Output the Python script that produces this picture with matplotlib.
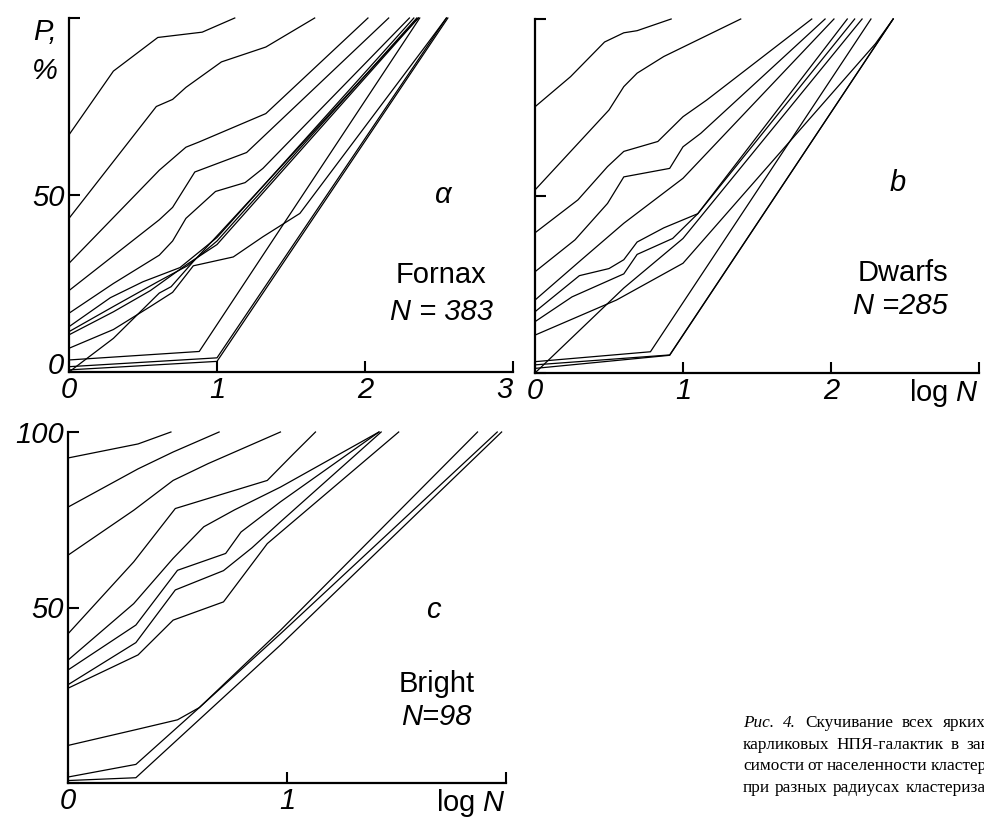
import matplotlib
matplotlib.use('Agg')
import matplotlib.pyplot as plt

plt.rcParams['font.family'] = ['Liberation Sans', 'DejaVu Sans']
plt.rcParams['mathtext.fontset'] = 'custom'
plt.rcParams['mathtext.it'] = 'Liberation Sans:italic'
plt.rcParams['mathtext.rm'] = 'Liberation Sans'

# --- a: Fornax, N = 383 (log N, P %) ---
fornax_x = [
    [0, 0.30, 0.60, 0.90, 1.12],
    [0, 0.59, 0.70, 0.79, 1.03, 1.33, 1.66],
    [0, 0.61, 0.79, 0.88, 1.33, 2.02],
    [0, 0.61, 0.70, 0.85, 1.20, 2.16],
    [0, 0.30, 0.61, 0.70, 0.79, 0.99, 1.19, 1.31, 2.30],
    [0, 0.28, 0.50, 0.75, 1.0, 2.33],
    [0, 0.30, 0.60, 0.80, 1.0, 2.35],
    [0, 0.30, 0.55, 0.80, 1.0, 2.36],
    [0, 0.30, 0.55, 0.70, 0.84, 1.11, 1.31, 1.56, 2.44, 2.55],
    [0, 0.30, 0.61, 0.69, 0.84, 2.36],
    [0, 0.88, 2.37],
    [0, 1.0, 2.55],
    [0, 1.0, 2.56],
]
fornax_y = [
    [67, 85, 94.5, 96, 100],
    [43.4, 75, 77, 80.4, 87.6, 91.8, 100],
    [30.7, 57, 63.5, 65, 73, 100],
    [23, 43, 46.5, 56.5, 62, 100],
    [16.6, 25, 33, 37, 43.4, 51, 53.5, 57.5, 100],
    [12.8, 21, 25.5, 29.5, 38, 100],
    [11.4, 18.5, 25.5, 30, 37, 100],
    [10.5, 17, 23, 30.5, 36, 100],
    [6.7, 12, 18.5, 22.5, 30, 32.5, 38.2, 44.8, 93.8, 100],
    [0, 9.5, 22.3, 24.1, 31.2, 100],
    [3.4, 5.8, 100],
    [1.5, 4, 100],
    [0.6, 3, 100],
]

# --- b: Dwarfs, N = 285 ---
dwarfs_x = [
    [0, 0.24, 0.47, 0.60, 0.69, 0.92],
    [0, 0.50, 0.60, 0.69, 0.87, 1.39],
    [0, 0.29, 0.49, 0.60, 0.83, 1.0, 1.16, 1.87],
    [0, 0.27, 0.49, 0.60, 0.91, 1.0, 1.12, 1.96],
    [0, 0.30, 0.60, 1.0, 2.02],
    [0, 0.30, 0.50, 0.60, 0.69, 0.87, 1.10, 2.11],
    [0, 0.25, 0.60, 0.69, 0.93, 1.10, 2.16],
    [0, 0.55, 1.0, 2.30, 2.42],
    [0, 0.30, 0.60, 1.0, 2.21],
    [0, 0.78, 2.27],
    [0, 0.91, 2.42],
    [0, 0.91, 2.42],
]
dwarfs_y = [
    [75.2, 83.7, 93.5, 96.1, 96.7, 100],
    [51.7, 74.3, 80.9, 84.7, 89.4, 100],
    [39.6, 48.9, 58.3, 62.6, 65.4, 72.4, 77.1, 100],
    [28.6, 37.6, 47.9, 55.4, 57.8, 63.9, 67.7, 100],
    [20.6, 31.5, 42.3, 55, 100],
    [17.3, 27.5, 29.5, 32, 37, 41, 45, 100],
    [14.5, 21.5, 28, 33.5, 38, 45, 100],
    [10.7, 20.6, 31, 93, 100],
    [0, 12, 24, 38, 100],
    [3.2, 6.0, 100],
    [2.3, 5.1, 100],
    [1.3, 5.0, 100],
]

# --- c: Bright, N = 98 ---
bright_x = [
    [0, 0.32, 0.47],
    [0, 0.32, 0.48, 0.69],
    [0, 0.30, 0.48, 0.64, 0.97],
    [0, 0.30, 0.49, 0.71, 0.91, 1.03, 1.13],
    [0, 0.30, 0.48, 0.62, 0.76, 0.97, 1.42],
    [0, 0.31, 0.50, 0.72, 0.79, 0.97, 1.42],
    [0, 0.31, 0.49, 0.71, 0.84, 0.97, 1.43],
    [0, 0.32, 0.48, 0.71, 0.91, 1.51],
    [0, 0.31, 0.50, 0.60, 0.97, 1.87],
    [0, 0.31, 0.60, 0.97, 1.96],
    [0, 0.31, 0.97, 1.98],
]
bright_y = [
    [92.6, 96.6, 100],
    [78.6, 89.5, 94.3, 100],
    [64.9, 77.7, 86.2, 91, 100],
    [42.5, 63, 78.2, 82.4, 86.2, 93.8, 100],
    [35, 51.1, 64, 73, 77.8, 84.3, 100],
    [32.2, 45, 60.6, 65.4, 71.5, 80.1, 100],
    [28, 40, 55, 60.5, 67, 74.4, 100],
    [27.0, 36.5, 46.4, 51.6, 68.2, 100],
    [10.7, 15.2, 18, 21.5, 43.5, 100],
    [1.7, 5.3, 21.5, 42.5, 100],
    [0.7, 1.5, 39.3, 100],
]

W, H = 984, 819
fig = plt.figure(figsize=(W / 100, H / 100), dpi=100)
FS = 21


def px_axes(left, top, right, bottom):
    return fig.add_axes([left / W, 1 - bottom / H, (right - left) / W, (bottom - top) / H])


def style(ax, xmax, xlabels, ylabels):
    ax.set_xlim(0, xmax)
    ax.set_ylim(0, 100)
    for s in ('top', 'right'):
        ax.spines[s].set_visible(False)
    for s in ('left', 'bottom'):
        ax.spines[s].set_linewidth(1.6)
    ax.set_xticks(range(xmax + 1))
    ax.set_xticklabels(xlabels, fontsize=FS, fontstyle='italic')
    ax.set_yticks([0, 50, 100])
    ax.set_yticklabels(ylabels, fontsize=FS, fontstyle='italic')
    ax.tick_params(direction='in', length=8, width=1.5, pad=3)
    for lab in ax.get_xticklabels():
        if 'log' in lab.get_text():
            lab.set_fontstyle('normal')
            lab.set_horizontalalignment('right')


def draw(ax, xs, ys):
    for x, y in zip(xs, ys):
        ax.plot(x, y, color='black', lw=0.9, clip_on=False)


ax_a = px_axes(69, 18, 513, 372)
draw(ax_a, fornax_x, fornax_y)
style(ax_a, 3, ['0', '1', '2', '3'], ['', '50', ''])
ax_a.get_xticklabels()[-1].set_horizontalalignment('right')
fig.text(64 / W, 1 - 366 / H, '0', fontsize=FS, fontstyle='italic', ha='right', va='center')
ax_a.text(374 / 444, 0.5, 'α', transform=ax_a.transAxes, fontsize=FS, fontstyle='italic', ha='center', va='center')
ax_a.text(372 / 444, 97 / 354, 'Fornax', transform=ax_a.transAxes, fontsize=FS, ha='center', va='center')
ax_a.text(372 / 444, 60 / 354, 'N = 383', transform=ax_a.transAxes, fontsize=FS, fontstyle='italic', ha='center', va='center')
fig.text(45 / W, 1 - 32 / H, 'P,', fontsize=FS, fontstyle='italic', ha='center', va='center')
fig.text(45 / W, 1 - 71 / H, '%', fontsize=FS, fontstyle='italic', ha='center', va='center')

ax_b = px_axes(535, 19, 979, 373)
draw(ax_b, dwarfs_x, dwarfs_y)
style(ax_b, 3, ['0', '1', '2', 'log $N$'], ['', '', ''])
ax_b.text(363 / 444, 190 / 354, 'b', transform=ax_b.transAxes, fontsize=FS, fontstyle='italic', ha='center', va='center')
ax_b.text(368 / 444, 100 / 354, 'Dwarfs', transform=ax_b.transAxes, fontsize=FS, ha='center', va='center')
ax_b.text(365 / 444, 67 / 354, 'N =285', transform=ax_b.transAxes, fontsize=FS, fontstyle='italic', ha='center', va='center')

ax_c = px_axes(68, 432, 506, 783)
draw(ax_c, bright_x, bright_y)
style(ax_c, 2, ['0', '1', 'log $N$'], ['', '50', '100'])
ax_c.text(365 / 438, 173 / 351, 'c', transform=ax_c.transAxes, fontsize=FS, fontstyle='italic', ha='center', va='center')
ax_c.text(369 / 438, 99 / 351, 'Bright', transform=ax_c.transAxes, fontsize=FS, ha='center', va='center')
ax_c.text(368 / 438, 66 / 351, 'N=98', transform=ax_c.transAxes, fontsize=FS, fontstyle='italic', ha='center', va='center')

# caption, justified, running past the right edge as in the scan
caption_lines = [
    [('Рис.', 'italic'), ('4.', 'italic'), ('Скучивание', 'normal'), ('всех', 'normal'), ('ярких', 'normal'), ('и', 'normal')],
    [('карликовых', 'normal'), ('НПЯ-галактик', 'normal'), ('в', 'normal'), ('зави-', 'normal')],
    [('симости', 'normal'), ('от', 'normal'), ('населенности', 'normal'), ('кластеров', 'normal')],
    [('при', 'normal'), ('разных', 'normal'), ('радиусах', 'normal'), ('кластеризации.', 'normal')],
]
fig.canvas.draw()
rend = fig.canvas.get_renderer()
x_left, x_right = 743, 1004
baselines = [727, 749, 770, 792]
for i, (words, yb) in enumerate(zip(caption_lines, baselines)):
    ts = [fig.text(0, 0, w, family='Liberation Serif', fontstyle=st, fontsize=12.4, va='baseline')
          for w, st in words]
    widths = [t.get_window_extent(rend).width for t in ts]
    if i < 3:
        gap = (x_right - x_left - sum(widths)) / (len(ts) - 1)
    else:
        gap = 5
    x = x_left
    for t, w in zip(ts, widths):
        t.set_position((x / W, 1 - yb / H))
        x += w + gap

fig.savefig('out.png', dpi=100)
